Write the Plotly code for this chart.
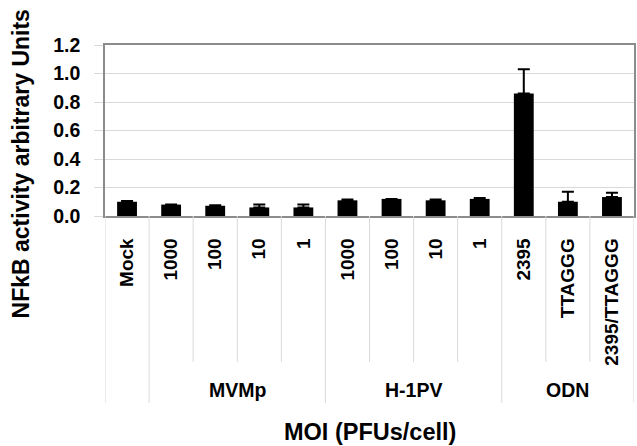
import plotly.graph_objects as go

# ---- data ----
groups = ["", "MVMp", "MVMp", "MVMp", "MVMp", "H-1PV", "H-1PV", "H-1PV", "H-1PV", "ODN", "ODN", "ODN"]
categories = ["Mock", "1000", "100", "10", "1", "1000", "100", "10", "1", "2395", "TTAGGG", "2395/TTAGGG"]
values = [0.10, 0.08, 0.072, 0.06, 0.06, 0.11, 0.12, 0.11, 0.12, 0.86, 0.10, 0.133]
errors = [0.006, 0.0, 0.004, 0.02, 0.02, 0.005, 0.0, 0.005, 0.006, 0.17, 0.07, 0.03]
y_ticks = [0.0, 0.2, 0.4, 0.6, 0.8, 1.0, 1.2]

FONT = "Liberation Sans"
n = len(categories)
xs = list(range(n))

fig = go.Figure()
fig.add_trace(go.Bar(
    x=xs, y=values,
    marker=dict(color="black", line=dict(width=0)),
    error_y=dict(type="data", array=errors, arrayminus=[0] * n, symmetric=False,
                 color="black", thickness=2, width=6),
))

# separators and group labels below the axis
shapes = []
annotations = []
inner_end = -0.854
outer_end = -1.094
for i in range(n + 1):
    b = i - 0.5
    if i == 0 or i == n:
        outer = True
    else:
        outer = groups[i] != groups[i - 1]
    shapes.append(dict(type="line", xref="x", yref="paper", x0=b, x1=b, y0=0,
                       y1=outer_end if outer else inner_end,
                       line=dict(color="#d9d9d9", width=1)))
seen = []
for g in groups:
    if g and g not in seen:
        seen.append(g)
for g in seen:
    idx = [i for i, gg in enumerate(groups) if gg == g]
    annotations.append(dict(text=g, xref="x", yref="paper", x=sum(idx) / len(idx), y=-1.017,
                            showarrow=False, xanchor="center", yanchor="middle",
                            font=dict(family=FONT, size=19.5, color="black", weight="bold")))
annotations.append(dict(text="MOI (PFUs/cell)", xref="paper", yref="paper", x=0.5, y=-1.262,
                        showarrow=False, xanchor="center", yanchor="middle",
                        font=dict(family=FONT, size=23.5, color="black", weight="bold")))
annotations.append(dict(text="NFkB activity arbitrary Units", xref="paper", yref="paper",
                        x=-0.158, y=0.304, textangle=-90, showarrow=False,
                        xanchor="center", yanchor="middle",
                        font=dict(family=FONT, size=23, color="black", weight="bold")))

fig.update_layout(
    width=637, height=446,
    margin=dict(l=105, r=1, t=45, b=230),
    paper_bgcolor="white", plot_bgcolor="white",
    showlegend=False,
    bargap=0.55,
    shapes=shapes,
    annotations=annotations,
    xaxis=dict(
        range=[-0.5, n - 0.5],
        tickmode="array", tickvals=xs, ticktext=categories,
        tickangle=-90, ticks="", showgrid=False, zeroline=False,
        showline=True, linecolor="#8c8c8c", linewidth=1.5, mirror=True,
        ticklabelstandoff=13,
        tickfont=dict(family=FONT, size=19, color="black", weight="bold"),
    ),
    yaxis=dict(
        range=[0, 1.2], tickmode="array", tickvals=y_ticks,
        ticktext=[f"{v:.1f}" for v in y_ticks],
        showgrid=True, gridcolor="#d9d9d9", gridwidth=1,
        zeroline=False,
        showline=True, linecolor="#8c8c8c", linewidth=1.5, mirror=True,
        ticks="outside", ticklen=9, tickcolor="#d9d9d9",
        ticklabelstandoff=10,
        tickfont=dict(family=FONT, size=19.5, color="black", weight="bold"),
    ),
)

fig.write_html("out.html")
